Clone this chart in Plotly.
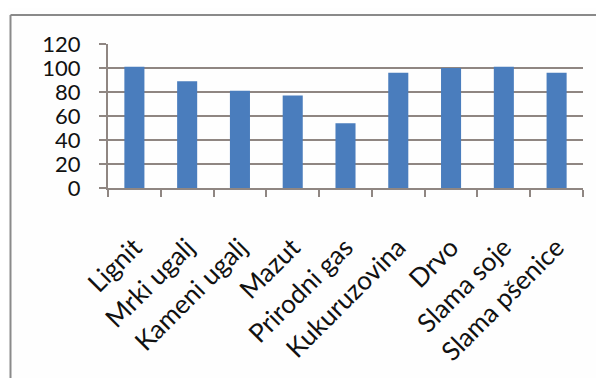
import plotly.graph_objects as go

categories = ["Lignit", "Mrki ugalj", "Kameni ugalj", "Mazut", "Prirodni gas",
              "Kukuruzovina", "Drvo", "Slama soje", "Slama pšenice"]
values = [101, 89, 81, 77, 54, 96, 100, 101, 96]
y_ticks = [0, 20, 40, 60, 80, 100, 120]

grid_col = "#8f8682"
bar_col = "#4a7dbd"
yfont = dict(family="Lato, Noto Sans, sans-serif", size=22, color="#111111")
xfont = dict(family="Lato, Noto Sans, sans-serif", size=26, color="#111111")

fig = go.Figure(go.Bar(x=categories, y=values, marker=dict(color=bar_col, line=dict(width=0))))

# the page adds an 8px body margin, so the figure is offset by 8px
OFF = 8
W, H = 604 - OFF, 378 - OFF
L, R, T, B = 108 - OFF, 21, 44 - OFF, 190
pw, ph = W - L - R, H - T - B

def px_x(px):
    return (px - OFF - L) / pw

def px_y(py):
    return (H - B - (py - OFF)) / ph

fig.update_layout(
    width=W, height=H,
    margin=dict(l=L, r=R, t=T, b=B, autoexpand=False),
    paper_bgcolor="#fefefe", plot_bgcolor="#fefefe",
    showlegend=False, bargap=0.62,
    xaxis=dict(
        type="category", tickson="boundaries", ticks="outside", ticklen=7,
        tickwidth=2, tickcolor=grid_col, showline=True, linecolor=grid_col,
        linewidth=2, showgrid=False, tickangle=-45, tickfont=xfont,
        ticklabelstandoff=32,
    ),
    yaxis=dict(
        range=[0, 120], tickvals=y_ticks, ticks="outside", ticklen=7,
        tickwidth=2, tickcolor=grid_col, showline=True, linecolor=grid_col,
        linewidth=2, showgrid=True, gridcolor=grid_col, gridwidth=2,
        zeroline=False, tickfont=yfont, ticklabelstandoff=14,
    ),
    shapes=[
        dict(type="line", xref="paper", yref="paper",
             x0=px_x(10.5), x1=px_x(640), y0=px_y(15), y1=px_y(15),
             line=dict(color="#8a8a8a", width=2)),
        dict(type="line", xref="paper", yref="paper",
             x0=px_x(10.5), x1=px_x(10.5), y0=px_y(15), y1=px_y(420),
             line=dict(color="#8a8a8a", width=2)),
    ],
)

fig.write_html("out.html")
